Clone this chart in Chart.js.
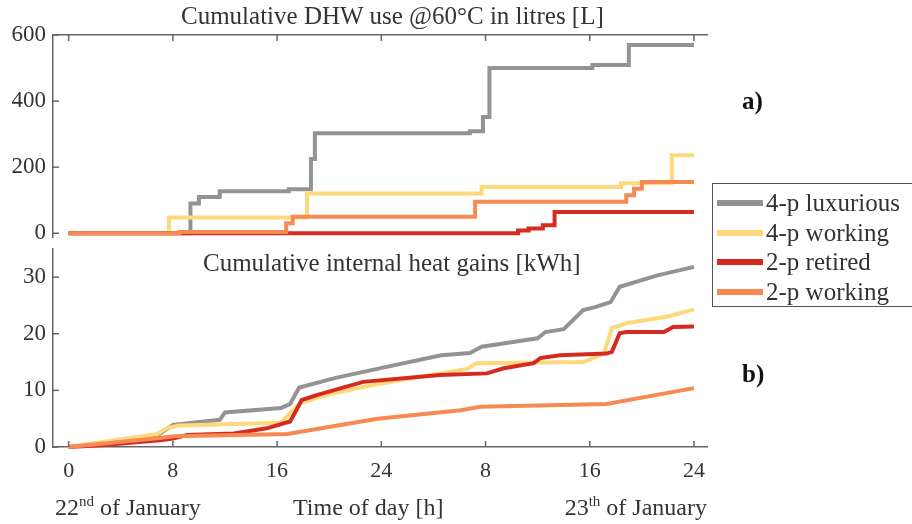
<!DOCTYPE html>
<html>
<head>
<meta charset="utf-8">
<script src="https://cdn.jsdelivr.net/npm/chart.js@4.4.1/dist/chart.umd.min.js"></script>
<style>
    body { margin: 0; background: #fff; }
    #wrap { position: relative; width: 912px; height: 524px; overflow: hidden; font-family: "Liberation Serif", "Times New Roman", serif; color: #333; }
    canvas { position: absolute; left: 0; }
    .txt { position: absolute; white-space: nowrap; line-height: 1; }
    .title { font-size: 25px; }
    .panel { font-size: 25px; font-weight: bold; color: #111; }
    .date { font-size: 24px; top: 495px; }
    .date sup { font-size: 15px; vertical-align: 9px; line-height: 0; }
    #legend { position: absolute; left: 712px; top: 183px; width: 205px; height: 124px; border: 1px solid #555; box-sizing: border-box; }
    .row { position: absolute; left: 4px; height: 30px; font-size: 25px; line-height: 30px; white-space: nowrap; }
    .sw { display: inline-block; width: 46px; height: 6px; vertical-align: middle; margin-right: 3px; position: relative; top: -2px; }
</style>
</head>
<body>
<div id="wrap">
    <canvas id="dhwChart" width="912" height="258" style="top:0"></canvas>
    <canvas id="heatChart" width="912" height="296" style="top:228px"></canvas>
    <div class="txt title" id="dhwTitle" style="left:181px; top:3px;">Cumulative DHW use @60°C in litres [L]</div>
    <div class="txt title" id="heatTitle" style="left:203px; top:250px;">Cumulative internal heat gains [kWh]</div>
    <div class="txt panel" style="left:742px; top:88px;">a)</div>
    <div class="txt panel" style="left:742px; top:361px;">b)</div>
    <div class="txt date" style="left:55px;">22<sup>nd</sup> of January</div>
    <div class="txt date" style="left:293px;">Time of day [h]</div>
    <div class="txt date" style="right:205px;">23<sup>th</sup> of January</div>
    <div id="legend"></div>
</div>
<script>
    // household profiles, legend order
    const seriesNames = ['4-p luxurious', '4-p working', '2-p retired', '2-p working'];
    const seriesColors = ['#939393', '#fdd97c', '#d62a20', '#f78a52'];

    // x axis: hours over two days
    const hourTicks = [0, 8, 16, 24, 32, 40, 48];
    const hourTickLabels = ['0', '8', '16', '24', '8', '16', '24'];

    // a) cumulative DHW use [L], step changes (hour, new value)
    const dhwLuxHours = [0, 9.35, 10.0, 11.6, 16.9, 18.6, 18.9, 30.8, 31.8, 32.3, 40.2, 43.0, 48];
    const dhwLuxValues = [0, 90, 110, 127, 133, 225, 303, 309, 352, 500, 509, 570, 570];
    const dhw4WorkHours = [0, 7.7, 18.3, 31.7, 42.4, 46.3, 48];
    const dhw4WorkValues = [0, 48, 120, 140, 151, 236, 236];
    const dhwRetHours = [0, 34.5, 35.3, 36.4, 37.3, 48];
    const dhwRetValues = [0, 8, 14, 24, 64, 64];
    const dhw2WorkHours = [0, 8.5, 16.7, 17.2, 31.2, 42.8, 43.4, 44.0, 48];
    const dhw2WorkValues = [0, 4, 30, 50, 95, 115, 135, 155, 155];
    const dhwTicks = [0, 200, 400, 600];

    // b) cumulative internal heat gains [kWh]
    const heatLuxHours = [0, 6.8, 8.0, 11.6, 12.0, 16.3, 17.0, 17.7, 20.5, 23.5, 28.6, 30.8, 31.7, 36.0, 36.6, 38.0, 39.5, 40.4, 41.6, 42.3, 45.2, 48];
    const heatLuxValues = [0, 2.0, 3.9, 4.8, 6.1, 6.9, 7.6, 10.5, 12.2, 13.7, 16.2, 16.6, 17.7, 19.2, 20.3, 20.8, 24.2, 24.7, 25.6, 28.3, 30.3, 31.8];
    const heat4WorkHours = [0, 6.8, 7.6, 8.5, 16.3, 17.2, 17.8, 20.0, 23.0, 26.0, 28.5, 30.6, 31.3, 39.5, 40.5, 41.1, 41.7, 42.9, 45.9, 48];
    const heat4WorkValues = [0, 2.3, 3.4, 3.8, 4.3, 6.5, 7.8, 9.3, 10.8, 12.0, 13.0, 13.8, 14.8, 15.0, 15.9, 16.6, 21.0, 21.9, 23.0, 24.3];
    const heatRetHours = [0, 2.5, 7.0, 8.0, 9.1, 12.7, 15.2, 17.0, 17.9, 19.1, 22.6, 28.5, 32.1, 33.4, 35.7, 36.2, 37.7, 41.3, 41.7, 42.3, 42.8, 45.7, 46.4, 48];
    const heatRetValues = [0, 0.3, 1.2, 1.5, 2.1, 2.4, 3.3, 4.5, 8.3, 9.2, 11.5, 12.7, 13.0, 13.9, 14.8, 15.7, 16.2, 16.5, 16.8, 20.1, 20.3, 20.3, 21.2, 21.3];
    const heat2WorkHours = [0, 7.0, 8.1, 16.8, 23.7, 30.1, 31.6, 41.3, 48];
    const heat2WorkValues = [0, 1.6, 1.9, 2.3, 5.0, 6.5, 7.1, 7.6, 10.4];
    const heatTicks = [0, 10, 20, 30];

    const axisColor = '#666';
    const tickFont = { family: 'Liberation Serif', size: 23 };

    function toPoints(hours, values) {
        return hours.map((h, i) => ({ x: h, y: values[i] }));
    }

    function makeDatasets(groups, stepped) {
        // drawn in reverse so the last profile ends up on top
        return groups.map((g, i) => ({
            label: seriesNames[i],
            data: toPoints(g[0], g[1]),
            borderColor: seriesColors[i],
            borderWidth: 4,
            pointRadius: 0,
            stepped: stepped,
            tension: 0,
            clip: false
        })).reverse();
    }

    // Matlab style ticks pointing into the plot
    const innerTicks = {
        id: 'innerTicks',
        afterDatasetsDraw(chart, args, opts) {
            const ctx = chart.ctx;
            const area = chart.chartArea;
            const x = chart.scales.x;
            const y = chart.scales.y;
            ctx.save();
            ctx.strokeStyle = axisColor;
            ctx.lineWidth = 1.5;
            const edge = opts.xTop ? area.top : area.bottom;
            const dir = opts.xTop ? 1 : -1;
            x.ticks.forEach(t => {
                const px = x.getPixelForValue(t.value);
                ctx.beginPath();
                ctx.moveTo(px, edge);
                ctx.lineTo(px, edge + dir * 6);
                ctx.stroke();
            });
            y.ticks.forEach(t => {
                const py = y.getPixelForValue(t.value);
                ctx.beginPath();
                ctx.moveTo(area.left, py);
                ctx.lineTo(area.left + 6, py);
                ctx.stroke();
            });
            ctx.restore();
        }
    };

    const dhwChart = new Chart(document.getElementById('dhwChart').getContext('2d'), {
        type: 'line',
        data: {
            datasets: makeDatasets([
                [dhwLuxHours, dhwLuxValues],
                [dhw4WorkHours, dhw4WorkValues],
                [dhwRetHours, dhwRetValues],
                [dhw2WorkHours, dhw2WorkValues]
            ], true)
        },
        options: {
            responsive: false,
            animation: false,
            layout: { padding: { left: 0, top: 35, right: 205, bottom: 0 } },
            plugins: { legend: { display: false }, tooltip: { enabled: false }, innerTicks: { xTop: true } },
            scales: {
                x: {
                    type: 'linear',
                    position: 'top',
                    min: -1.2,
                    max: 49,
                    afterBuildTicks: s => { s.ticks = hourTicks.map(v => ({ value: v })); },
                    afterFit: s => { s.height = 0; },
                    ticks: { display: false },
                    grid: { display: false, drawTicks: false },
                    border: { display: true, color: axisColor, width: 1.5 }
                },
                y: {
                    min: -12,
                    max: 600,
                    afterBuildTicks: s => { s.ticks = dhwTicks.map(v => ({ value: v })); },
                    afterFit: s => { s.width = 53; },
                    ticks: { font: tickFont, color: '#333', padding: 7 },
                    grid: { display: false, drawTicks: false },
                    border: { display: true, color: axisColor, width: 1.5 }
                }
            }
        },
        plugins: [innerTicks]
    });

    const heatChart = new Chart(document.getElementById('heatChart').getContext('2d'), {
        type: 'line',
        data: {
            datasets: makeDatasets([
                [heatLuxHours, heatLuxValues],
                [heat4WorkHours, heat4WorkValues],
                [heatRetHours, heatRetValues],
                [heat2WorkHours, heat2WorkValues]
            ], false)
        },
        options: {
            responsive: false,
            animation: false,
            layout: { padding: { left: 0, top: 0, right: 205, bottom: 0 } },
            plugins: { legend: { display: false }, tooltip: { enabled: false }, innerTicks: { xTop: false } },
            scales: {
                x: {
                    type: 'linear',
                    min: -1.2,
                    max: 49,
                    afterBuildTicks: s => { s.ticks = hourTicks.map(v => ({ value: v })); },
                    afterFit: s => { s.height = 77; },
                    ticks: {
                        font: { family: 'Liberation Serif', size: 22 },
                        color: '#333',
                        padding: 11,
                        autoSkip: false,
                        maxRotation: 0,
                        callback: (v, i) => hourTickLabels[i]
                    },
                    grid: { display: false, drawTicks: false },
                    border: { display: true, color: axisColor, width: 1.5 }
                },
                y: {
                    min: 0,
                    max: 35,
                    afterBuildTicks: s => { s.ticks = heatTicks.map(v => ({ value: v })); },
                    afterFit: s => { s.width = 53; },
                    ticks: { font: tickFont, color: '#333', padding: 7 },
                    grid: { display: false, drawTicks: false },
                    border: { display: true, color: axisColor, width: 1.5 }
                }
            }
        },
        plugins: [innerTicks]
    });

    // legend box built from the same names and colours
    const legend = document.getElementById('legend');
    seriesNames.forEach((name, i) => {
        const row = document.createElement('div');
        row.className = 'row';
        row.style.top = (4 + i * 29.5) + 'px';
        row.innerHTML = `<span class="sw" style="background:${seriesColors[i]}"></span>${name}`;
        legend.appendChild(row);
    });
</script>
</body>
</html>
